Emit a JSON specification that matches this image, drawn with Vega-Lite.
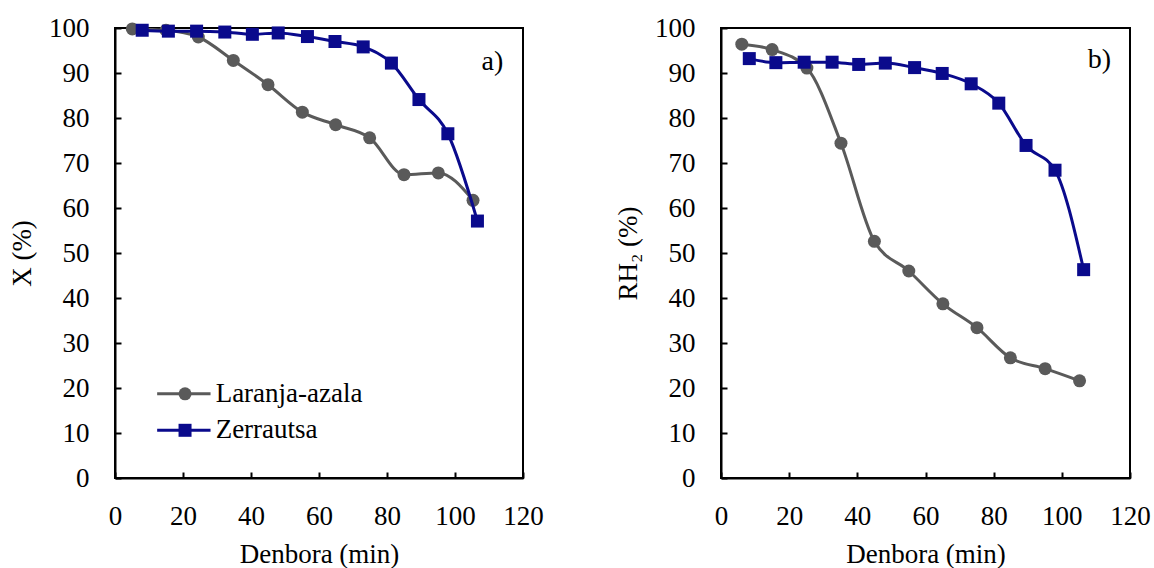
{
  "$schema": "https://vega.github.io/schema/vega-lite/v6.json",
  "background": "white",
  "padding": {"left": 7, "top": 13, "right": 5, "bottom": 0},
  "spacing": 68,
  "datasets": {
    "d": [
      {"panel": "a", "series": "Laranja-azala", "t": 5.1, "v": 99.8},
      {"panel": "a", "series": "Laranja-azala", "t": 15, "v": 99.5},
      {"panel": "a", "series": "Laranja-azala", "t": 24.5, "v": 98.0},
      {"panel": "a", "series": "Laranja-azala", "t": 34.8, "v": 92.8},
      {"panel": "a", "series": "Laranja-azala", "t": 45, "v": 87.4},
      {"panel": "a", "series": "Laranja-azala", "t": 55.1, "v": 81.3},
      {"panel": "a", "series": "Laranja-azala", "t": 64.9, "v": 78.5},
      {"panel": "a", "series": "Laranja-azala", "t": 74.9, "v": 75.6},
      {"panel": "a", "series": "Laranja-azala", "t": 85, "v": 67.4},
      {"panel": "a", "series": "Laranja-azala", "t": 95.1, "v": 67.8},
      {"panel": "a", "series": "Laranja-azala", "t": 105.3, "v": 61.7},
      {"panel": "a", "series": "Zerrautsa", "t": 8.0, "v": 99.5},
      {"panel": "a", "series": "Zerrautsa", "t": 15.7, "v": 99.3},
      {"panel": "a", "series": "Zerrautsa", "t": 24.0, "v": 99.3},
      {"panel": "a", "series": "Zerrautsa", "t": 32.3, "v": 99.1},
      {"panel": "a", "series": "Zerrautsa", "t": 40.4, "v": 98.6},
      {"panel": "a", "series": "Zerrautsa", "t": 48.0, "v": 98.9},
      {"panel": "a", "series": "Zerrautsa", "t": 56.6, "v": 98.1},
      {"panel": "a", "series": "Zerrautsa", "t": 64.7, "v": 97.0},
      {"panel": "a", "series": "Zerrautsa", "t": 73.0, "v": 95.8},
      {"panel": "a", "series": "Zerrautsa", "t": 81.3, "v": 92.2},
      {"panel": "a", "series": "Zerrautsa", "t": 89.4, "v": 84.1},
      {"panel": "a", "series": "Zerrautsa", "t": 97.9, "v": 76.5},
      {"panel": "a", "series": "Zerrautsa", "t": 106.6, "v": 57.1},
      {"panel": "b", "series": "Laranja-azala", "t": 6.1, "v": 96.4},
      {"panel": "b", "series": "Laranja-azala", "t": 15.0, "v": 95.2},
      {"panel": "b", "series": "Laranja-azala", "t": 25.2, "v": 91.1},
      {"panel": "b", "series": "Laranja-azala", "t": 35.2, "v": 74.4},
      {"panel": "b", "series": "Laranja-azala", "t": 45.0, "v": 52.6},
      {"panel": "b", "series": "Laranja-azala", "t": 55.1, "v": 46.0},
      {"panel": "b", "series": "Laranja-azala", "t": 65.1, "v": 38.7},
      {"panel": "b", "series": "Laranja-azala", "t": 75.1, "v": 33.4},
      {"panel": "b", "series": "Laranja-azala", "t": 84.9, "v": 26.7},
      {"panel": "b", "series": "Laranja-azala", "t": 95.1, "v": 24.3},
      {"panel": "b", "series": "Laranja-azala", "t": 105.2, "v": 21.6},
      {"panel": "b", "series": "Zerrautsa", "t": 8.3, "v": 93.2},
      {"panel": "b", "series": "Zerrautsa", "t": 16.1, "v": 92.3},
      {"panel": "b", "series": "Zerrautsa", "t": 24.4, "v": 92.4},
      {"panel": "b", "series": "Zerrautsa", "t": 32.6, "v": 92.4},
      {"panel": "b", "series": "Zerrautsa", "t": 40.4, "v": 91.9},
      {"panel": "b", "series": "Zerrautsa", "t": 48.2, "v": 92.2},
      {"panel": "b", "series": "Zerrautsa", "t": 56.8, "v": 91.2},
      {"panel": "b", "series": "Zerrautsa", "t": 64.9, "v": 89.9},
      {"panel": "b", "series": "Zerrautsa", "t": 73.4, "v": 87.6},
      {"panel": "b", "series": "Zerrautsa", "t": 81.5, "v": 83.3},
      {"panel": "b", "series": "Zerrautsa", "t": 89.5, "v": 73.9},
      {"panel": "b", "series": "Zerrautsa", "t": 98.0, "v": 68.4},
      {"panel": "b", "series": "Zerrautsa", "t": 106.4, "v": 46.3}
    ]
  },
  "config": {
    "font": "Liberation Serif",
    "style": {"guide-label": {"font": "Liberation Serif"}, "guide-title": {"font": "Liberation Serif"}},
    "view": {"stroke": "black", "strokeWidth": 2},
    "axis": {
      "grid": false,
      "domainColor": "black",
      "domainWidth": 2,
      "tickColor": "black",
      "tickWidth": 2,
      "tickSize": -6,
      "labelFont": "Liberation Serif",
      "labelFontSize": 27,
      "labelColor": "black",
      "titleFont": "Liberation Serif",
      "titleFontSize": 27,
      "titleFontWeight": "normal",
      "titleColor": "black"
    },
    "axisX": {"labelPadding": 31, "titlePadding": 12, "labelFlush": false},
    "axisY": {"labelPadding": 32, "titlePadding": 12, "labelFlush": false}
  },
  "hconcat": [
    {
      "width": 408,
      "height": 450,
      "layer": [
        {
          "data": {"name": "d"},
          "transform": [{"filter": "datum.panel === 'a'"}],
          "encoding": {
            "x": {"field": "t", "type": "quantitative", "scale": {"domain": [0, 120]}, "axis": {"values": [0, 20, 40, 60, 80, 100, 120], "title": "Denbora (min)"}},
            "y": {"field": "v", "type": "quantitative", "scale": {"domain": [0, 100]}, "axis": {"values": [0, 10, 20, 30, 40, 50, 60, 70, 80, 90, 100], "title": "X (%)"}},
            "color": {"field": "series", "type": "nominal", "scale": {"domain": ["Laranja-azala", "Zerrautsa"], "range": ["#5A5A5A", "#0A0A8C"]}, "legend": null},
            "shape": {"field": "series", "type": "nominal", "scale": {"domain": ["Laranja-azala", "Zerrautsa"], "range": ["circle", "square"]}, "legend": null}
          },
          "layer": [
            {"transform": [{"filter": "datum.series === 'Laranja-azala'"}], "mark": {"type": "line", "interpolate": "monotone", "strokeWidth": 3}},
            {"transform": [{"filter": "datum.series === 'Laranja-azala'"}], "mark": {"type": "point", "filled": true, "opacity": 1, "size": 169}},
            {"transform": [{"filter": "datum.series === 'Zerrautsa'"}], "mark": {"type": "line", "interpolate": "monotone", "strokeWidth": 3}},
            {"transform": [{"filter": "datum.series === 'Zerrautsa'"}], "mark": {"type": "point", "filled": true, "opacity": 1, "size": 169}}
          ]
        },
        {"data": {"values": [{"label": "a)"}]}, "mark": {"type": "text", "fontSize": 28, "font": "Liberation Serif", "align": "center", "baseline": "middle"}, "encoding": {"x": {"datum": 111}, "y": {"datum": 92.5}, "text": {"field": "label"}, "color": {"value": "black"}}},
        {"data": {"values": [{"series": "Laranja-azala"}]}, "mark": {"type": "rule", "strokeWidth": 3}, "encoding": {"x": {"datum": 12.4}, "x2": {"datum": 28.1}, "y": {"datum": 18.7}, "color": {"value": "#5A5A5A"}}},
        {"data": {"values": [{"series": "Laranja-azala"}]}, "mark": {"type": "point", "shape": "circle", "filled": true, "opacity": 1, "size": 169}, "encoding": {"x": {"datum": 20.6}, "y": {"datum": 18.7}, "color": {"value": "#5A5A5A"}}},
        {"data": {"values": [{"series": "Laranja-azala"}]}, "mark": {"type": "text", "fontSize": 27, "font": "Liberation Serif", "align": "left", "baseline": "middle"}, "encoding": {"x": {"datum": 29.6}, "y": {"datum": 18.7}, "text": {"field": "series"}, "color": {"value": "black"}}},
        {"data": {"values": [{"series": "Zerrautsa"}]}, "mark": {"type": "rule", "strokeWidth": 3}, "encoding": {"x": {"datum": 12.4}, "x2": {"datum": 28.1}, "y": {"datum": 10.6}, "color": {"value": "#0A0A8C"}}},
        {"data": {"values": [{"series": "Zerrautsa"}]}, "mark": {"type": "point", "shape": "square", "filled": true, "opacity": 1, "size": 169}, "encoding": {"x": {"datum": 20.6}, "y": {"datum": 10.6}, "color": {"value": "#0A0A8C"}}},
        {"data": {"values": [{"series": "Zerrautsa"}]}, "mark": {"type": "text", "fontSize": 27, "font": "Liberation Serif", "align": "left", "baseline": "middle"}, "encoding": {"x": {"datum": 29.6}, "y": {"datum": 10.6}, "text": {"field": "series"}, "color": {"value": "black"}}}
      ]
    },
    {
      "width": 409,
      "height": 450,
      "layer": [
        {
          "data": {"name": "d"},
          "transform": [{"filter": "datum.panel === 'b'"}],
          "encoding": {
            "x": {"field": "t", "type": "quantitative", "scale": {"domain": [0, 120]}, "axis": {"values": [0, 20, 40, 60, 80, 100, 120], "title": "Denbora (min)"}},
            "y": {"field": "v", "type": "quantitative", "scale": {"domain": [0, 100]}, "axis": {"values": [0, 10, 20, 30, 40, 50, 60, 70, 80, 90, 100], "title": "RH₂ (%)"}},
            "color": {"field": "series", "type": "nominal", "scale": {"domain": ["Laranja-azala", "Zerrautsa"], "range": ["#5A5A5A", "#0A0A8C"]}, "legend": null},
            "shape": {"field": "series", "type": "nominal", "scale": {"domain": ["Laranja-azala", "Zerrautsa"], "range": ["circle", "square"]}, "legend": null}
          },
          "layer": [
            {"transform": [{"filter": "datum.series === 'Laranja-azala'"}], "mark": {"type": "line", "interpolate": "monotone", "strokeWidth": 3}},
            {"transform": [{"filter": "datum.series === 'Laranja-azala'"}], "mark": {"type": "point", "filled": true, "opacity": 1, "size": 169}},
            {"transform": [{"filter": "datum.series === 'Zerrautsa'"}], "mark": {"type": "line", "interpolate": "monotone", "strokeWidth": 3}},
            {"transform": [{"filter": "datum.series === 'Zerrautsa'"}], "mark": {"type": "point", "filled": true, "opacity": 1, "size": 169}}
          ]
        },
        {"data": {"values": [{"label": "b)"}]}, "mark": {"type": "text", "fontSize": 28, "font": "Liberation Serif", "align": "center", "baseline": "middle"}, "encoding": {"x": {"datum": 111}, "y": {"datum": 92.8}, "text": {"field": "label"}, "color": {"value": "black"}}}
      ]
    }
  ]
}
